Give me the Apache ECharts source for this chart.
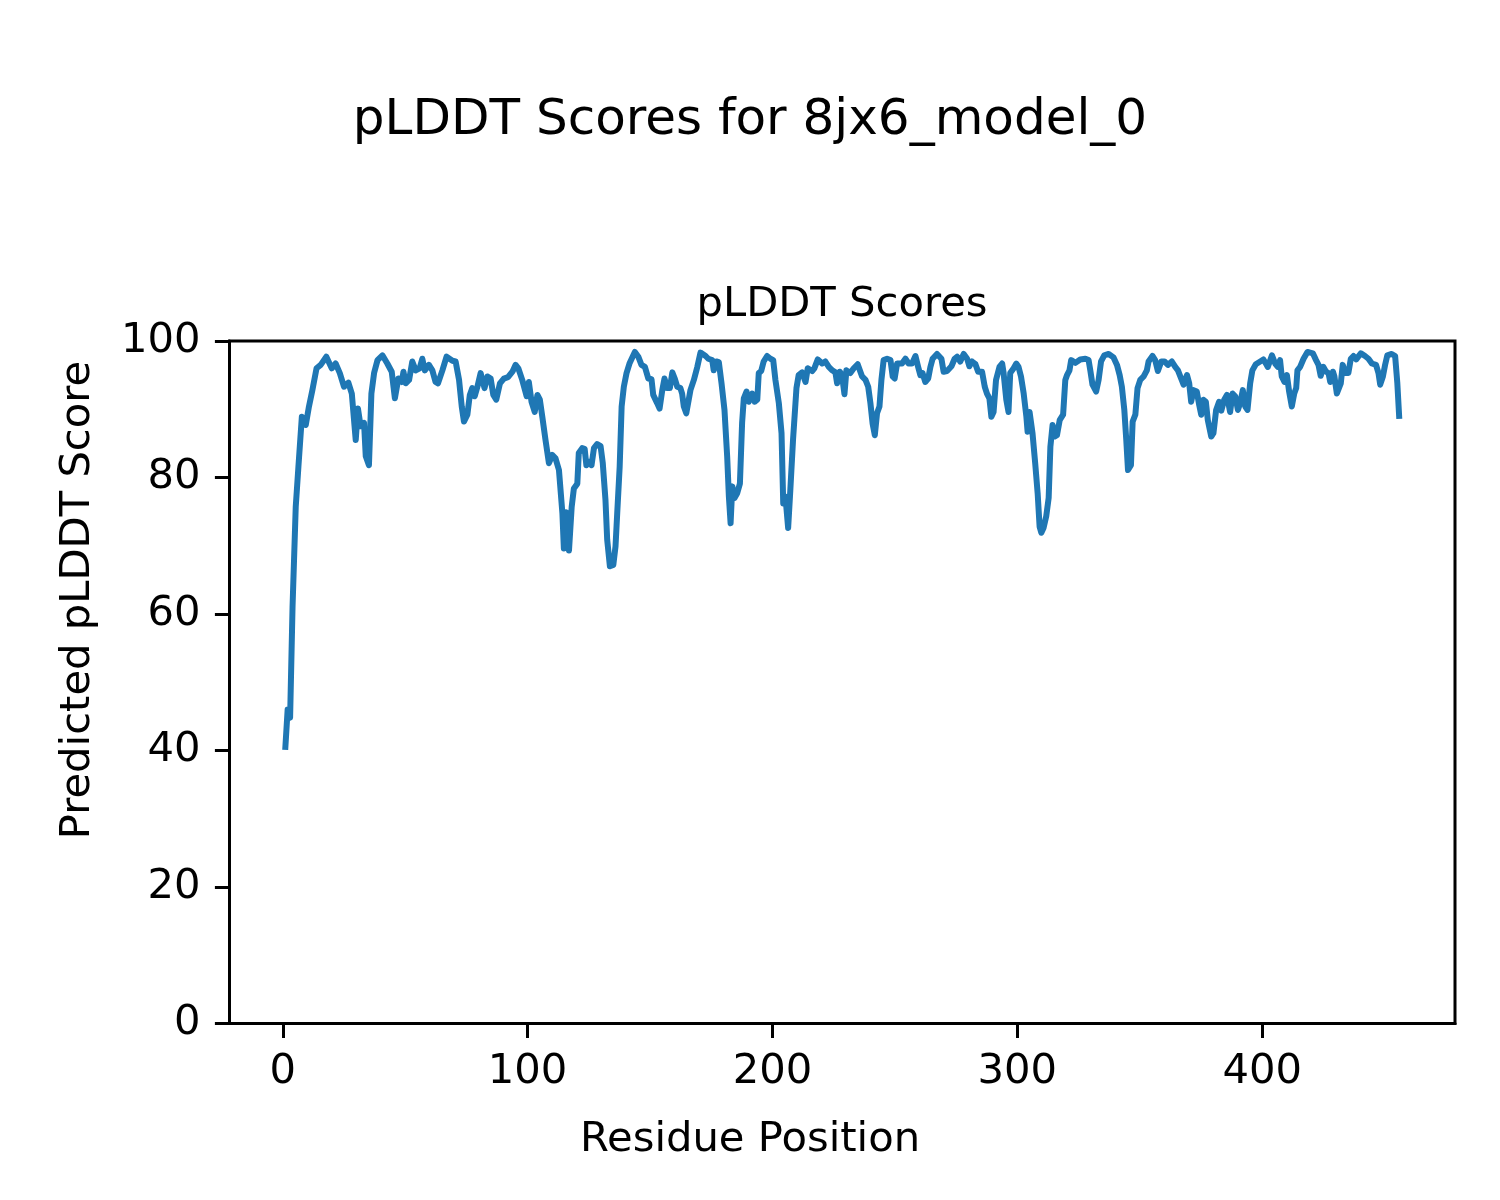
<!DOCTYPE html>
<html>
<head>
<meta charset="utf-8">
<script src="https://cdn.jsdelivr.net/npm/echarts@6/dist/echarts.min.js"></script>
<style>
  html, body { margin: 0; padding: 0; background: #fff; }
  #chart { width: 1500px; height: 1200px; }
</style>
</head>
<body>
<div id="chart"></div>
<script>
// Residue position and predicted pLDDT score
const residueScores = [
  [1,40.1],[2,46.0],[3,44.8],[4.0,61.1],[5.3,75.7],[6.4,81.6],[7.8,88.9],[9.4,87.7],[10.7,90.4],[12.1,92.8],
  [13.8,96.0],[15.5,96.5],[17.8,97.7],[20,96.0],[21.6,96.7],[23.3,95.3],[25,93.3],[26.8,93.9],[28.2,92.3],[29.8,85.5],
  [30.7,90.1],[31.8,87.5],[33.2,88.0],[33.9,83.1],[35.2,81.8],[36.2,92.3],[37.3,95.3],[38.7,97.2],[40.7,97.9],[42.7,96.7],
  [44.5,95.5],[45.8,91.6],[47.2,94.5],[48.6,94.0],[49.3,95.5],[50.2,93.8],[51.6,94.3],[52.9,97.0],[54.3,95.7],[55.9,96.0],
  [57,97.4],[58,95.7],[59.7,96.5],[61.1,95.7],[62.4,94.0],[63.4,93.8],[65.2,95.7],[66.9,97.7],[69.3,97.1],[70.6,97.0],
  [72,94.3],[73.1,90.4],[74,88.2],[75.4,89.2],[76.4,92.1],[77.4,93.1],[78.4,91.9],[79.5,93.3],[80.8,95.3],[82.4,93.1],
  [83.6,94.8],[84.9,94.5],[86,92.1],[87.2,91.4],[88.7,93.8],[90.3,94.5],[92,94.7],[93.8,95.5],[95.1,96.5],[96.2,96.0],
  [97.8,94.3],[99.6,91.9],[100.5,94.0],[101.6,91.1],[102.9,89.6],[104,92.1],[105,91.4],[106,88.9],[107.3,85.5],[108.7,82.1],
  [110.1,83.3],[111.4,82.8],[112.8,81.1],[114.2,74.8],[114.8,69.6],[115.7,74.9],[116.9,69.3],[118,75.7],[118.9,78.4],[120.3,79.1],
  [120.9,83.6],[122.3,84.3],[123.3,84.2],[124,81.8],[125.3,82.3],[126.1,81.8],[127.1,84.3],[128.4,84.9],[129.8,84.6],[130.7,82.1],
  [131.8,76.7],[132.5,70.9],[133.6,67.0],[135,67.2],[135.9,69.9],[136.6,74.8],[137.6,81.6],[138.4,90.4],[139.3,93.3],[140.4,95.3],
  [141.6,96.7],[143.8,98.4],[145.2,97.7],[146.5,96.5],[147.9,96.2],[149.3,94.5],[150.6,94.4],[151.3,92.1],[152.9,90.9],[153.9,90.1],
  [155,92.8],[155.9,94.5],[157,93.1],[158.1,93.1],[159.1,95.4],[160.1,94.5],[161.1,93.3],[162.4,93.1],[163.1,92.3],[163.8,90.4],
  [164.8,89.4],[165.8,91.4],[166.5,92.8],[167.9,94.3],[169.3,96.2],[170.6,98.3],[172.7,97.8],[173.8,97.4],[175.4,97.2],[176,95.7],
  [177.1,97.0],[178.1,96.9],[179.2,93.8],[180.4,89.9],[181.5,83.1],[182.2,77.2],[182.9,73.3],[183.6,78.7],[184.5,77.0],[185.6,77.7],
  [186.7,79.1],[187.6,88.0],[188.3,91.6],[189.4,92.6],[190.3,91.1],[191.7,92.3],[192.7,91.1],[193.8,91.4],[194.4,95.3],[195.4,95.6],
  [196.4,97.0],[197.8,97.8],[199.2,97.4],[200.3,97.2],[201.2,94.3],[202.6,90.9],[203.7,86.5],[204.4,76.2],[205.3,77.2],[206.4,72.6],
  [207.3,78.2],[208.4,85.5],[209.8,93.1],[210.7,95.0],[212.1,95.4],[213.5,94.0],[214.4,96.0],[216.2,95.6],[217.1,96.0],[218.5,97.3],
  [220.3,96.7],[221.6,97.0],[223,96.2],[224.4,95.7],[225.7,95.4],[226.4,93.8],[227.5,95.5],[228.4,95.0],[229.4,92.2],[230.2,95.7],
  [231.8,95.3],[233.2,96.0],[234.8,96.6],[235.5,96.7],[236.6,94.8],[238,94.3],[239.1,93.3],[240,90.9],[240.9,87.9],[241.8,86.2],
  [242.7,89.4],[243.7,90.4],[244.5,94.3],[245.4,97.2],[246.8,97.4],[248.2,97.2],[249.1,94.8],[249.9,94.5],[250.9,96.7],[252.9,96.7],
  [254.3,97.4],[255.6,96.7],[257,96.7],[258.4,97.8],[259.5,96.2],[260.4,95.0],[261.3,95.3],[262.4,94.0],[263.6,94.5],[264.5,96.2],
  [265.4,97.4],[267.2,98.1],[269,97.4],[269.9,95.5],[271.3,95.6],[273.1,96.3],[274.4,97.4],[275.4,97.7],[276.7,97.0],[278.1,98.1],
  [279.5,97.4],[280.4,96.3],[281.5,97.0],[282.9,96.6],[284,95.5],[285.6,95.5],[286.7,93.3],[287.6,92.3],[288.6,91.6],[289.4,88.9],
  [290.3,89.6],[291.3,94.3],[292.7,96.2],[293.8,96.7],[294.4,95.3],[295.5,91.4],[296.4,89.6],[297.1,95.3],[298.5,96.0],[299.6,96.7],
  [300.5,96.2],[301.5,94.8],[302.6,92.3],[303.7,88.9],[304.2,86.7],[305,89.6],[305.7,89.5],[306.2,86.5],[307.3,82.1],[308.3,77.7],
  [309.1,72.8],[309.8,71.9],[310.7,72.6],[311.8,74.3],[312.8,77.0],[313.5,84.5],[314.4,87.7],[315.2,86.0],[316.2,86.2],[317.3,88.4],
  [318.7,89.2],[319.6,94.3],[320.3,95.0],[321.3,95.7],[322,97.2],[323.7,96.8],[325.7,97.3],[327.8,97.4],[329.1,97.2],[329.8,95.7],
  [330.7,93.6],[332.2,92.6],[333.2,94.3],[334.2,97.0],[335.5,97.9],[337.3,98.1],[339.3,97.6],[340.7,96.5],[341.8,95.0],[342.7,93.3],
  [343.7,89.9],[344.5,85.5],[345.2,81.1],[346.4,81.8],[347.1,88.2],[348.2,89.2],[349.1,93.1],[350.2,94.3],[351.6,94.8],[352.9,95.7],
  [353.6,97.0],[355.2,97.8],[356.3,97.2],[357.4,95.6],[358.8,97.0],[360.1,97.0],[361.5,96.5],[363.1,97.0],[364.5,96.2],[365.6,95.7],
  [366.9,94.5],[367.9,93.6],[369.3,95.0],[370.2,93.8],[371,91.1],[372,92.8],[373.3,92.6],[374.3,90.6],[375.1,89.2],[376,91.4],
  [377,91.1],[377.8,88.4],[379.2,86.0],[380.1,86.5],[381.2,89.9],[382.4,91.1],[383.3,89.8],[384.5,91.4],[385.6,92.1],[386.9,89.6],
  [387.9,92.3],[389,91.9],[390.1,89.9],[391,90.9],[392.1,92.8],[393.1,90.4],[394,89.9],[395.1,93.8],[396,95.7],[397.4,96.6],
  [399.2,97.0],[400.5,97.3],[401.5,96.7],[402.3,96.2],[404,97.9],[405.3,96.7],[406.4,96.2],[407.3,97.2],[408,94.8],[409.1,94.0],
  [410.1,95.0],[411,92.6],[412.1,90.4],[413.1,92.3],[413.9,93.1],[414.4,95.7],[415.5,96.2],[416.9,97.4],[418.5,98.4],[420.7,98.2],
  [422,97.2],[423,96.5],[423.9,94.9],[425,96.2],[426.1,95.5],[427.1,95.3],[427.8,94.0],[428.9,95.5],[429.5,94.8],[430.5,92.3],
  [431.3,92.1],[432.1,93.8],[432.9,96.5],[433.9,95.3],[435.2,95.3],[436.2,97.4],[437.3,97.8],[438.4,97.3],[440.3,98.2],[442,97.8],
  [443.4,97.4],[444.8,96.7],[446.5,96.5],[447.5,95.3],[448.2,93.6],[449.3,94.8],[450.2,96.5],[451.1,97.9],[452.9,98.1],[454.3,97.8],
  [455.2,93.8],[456,88.6]
];

const xTickValues = [0, 100, 200, 300, 400];
const yTickValues = [0, 20, 40, 60, 80, 100];

const figureTitle = 'pLDDT Scores for 8jx6_model_0';
const axesTitle = 'pLDDT Scores';
const xAxisLabel = 'Residue Position';
const yAxisLabel = 'Predicted pLDDT Score';

const FONT = 'DejaVu Sans';
const tickFont = 41.7;

const chart = echarts.init(document.getElementById('chart'), null, { renderer: 'canvas' });

const option = {
  backgroundColor: '#ffffff',
  animation: false,
  grid: {
    left: 229.5,
    right: 45,
    top: 341,
    bottom: 176.5,
    show: true,
    borderColor: '#000000',
    borderWidth: 3,
    backgroundColor: 'transparent'
  },
  graphic: [
    { type: 'text', style: { text: figureTitle, x: 750, y: 121, font: '50px "' + FONT + '"', fill: '#000', align: 'center', verticalAlign: 'middle' } },
    { type: 'text', style: { text: axesTitle, x: 842, y: 305, font: tickFont + 'px "' + FONT + '"', fill: '#000', align: 'center', verticalAlign: 'middle' } },
    { type: 'text', style: { text: xAxisLabel, x: 750, y: 1140, font: tickFont + 'px "' + FONT + '"', fill: '#000', align: 'center', verticalAlign: 'middle' } },
    { type: 'text', x: 78, y: 600, rotation: Math.PI / 2, style: { text: yAxisLabel, x: 0, y: 0, font: tickFont + 'px "' + FONT + '"', fill: '#000', align: 'center', verticalAlign: 'middle' } }
  ],
  xAxis: {
    type: 'value',
    min: -21.75,
    max: 478.75,
    splitLine: { show: false },
    axisLine: { show: true, onZero: false, lineStyle: { color: '#000', width: 3 } },
    axisTick: { show: true, length: 14.6, lineStyle: { color: '#000', width: 3 }, customValues: xTickValues },
    axisLabel: { color: '#000', fontFamily: FONT, fontSize: tickFont, margin: 28, customValues: xTickValues }
  },
  yAxis: {
    type: 'value',
    min: 0,
    max: 100,
    interval: 20,
    splitLine: { show: false },
    axisLine: { show: true, onZero: false, lineStyle: { color: '#000', width: 3 } },
    axisTick: { show: true, length: 14.6, lineStyle: { color: '#000', width: 3 }, customValues: yTickValues },
    axisLabel: { color: '#000', fontFamily: FONT, fontSize: tickFont, margin: 29, customValues: yTickValues }
  },
  series: [{
    type: 'line',
    data: residueScores,
    showSymbol: false,
    symbol: 'none',
    clip: true,
    lineStyle: { color: '#1f77b4', width: 6, join: 'round', cap: 'butt' }
  }]
};

chart.setOption(option);
</script>
</body>
</html>
